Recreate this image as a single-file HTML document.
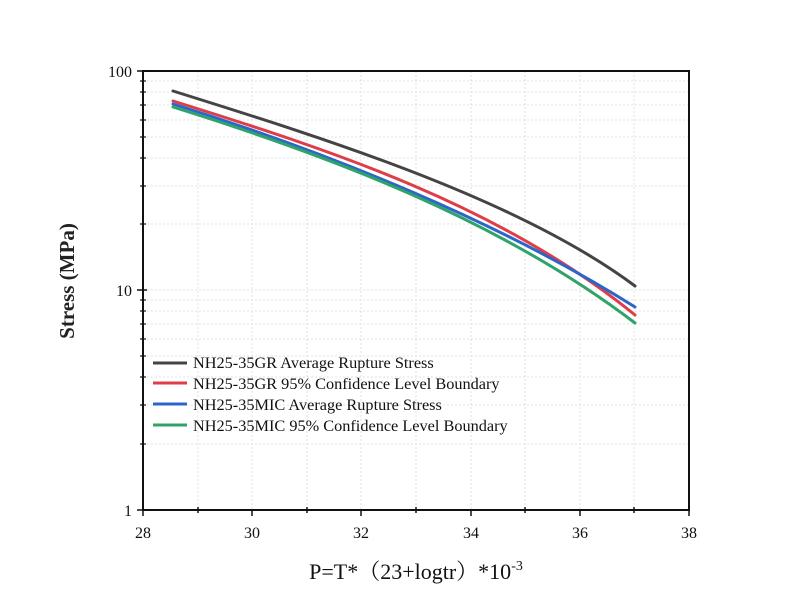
<!DOCTYPE html>
<html><head><style>body{margin:0;background:#fff}svg{display:block}</style></head><body>
<svg width="800" height="612" xmlns="http://www.w3.org/2000/svg" font-family="Liberation Serif, serif">
<rect width="800" height="612" fill="#fff"/>
<g stroke="#e2e2e2" stroke-width="1" stroke-dasharray="2,2">
<line x1="198" y1="71" x2="198" y2="510"/><line x1="252" y1="71" x2="252" y2="510"/><line x1="307" y1="71" x2="307" y2="510"/><line x1="361" y1="71" x2="361" y2="510"/><line x1="416" y1="71" x2="416" y2="510"/><line x1="471" y1="71" x2="471" y2="510"/><line x1="525" y1="71" x2="525" y2="510"/><line x1="580" y1="71" x2="580" y2="510"/><line x1="634" y1="71" x2="634" y2="510"/>
<line x1="143" y1="290" x2="689" y2="290"/>
<line x1="143" y1="81" x2="689" y2="81"/><line x1="143" y1="92" x2="689" y2="92"/><line x1="143" y1="105" x2="689" y2="105"/><line x1="143" y1="120" x2="689" y2="120"/><line x1="143" y1="137" x2="689" y2="137"/><line x1="143" y1="158" x2="689" y2="158"/><line x1="143" y1="186" x2="689" y2="186"/><line x1="143" y1="224" x2="689" y2="224"/>
<line x1="143" y1="300" x2="689" y2="300"/><line x1="143" y1="311" x2="689" y2="311"/><line x1="143" y1="324" x2="689" y2="324"/><line x1="143" y1="339" x2="689" y2="339"/><line x1="143" y1="356" x2="689" y2="356"/><line x1="143" y1="377" x2="689" y2="377"/><line x1="143" y1="405" x2="689" y2="405"/><line x1="143" y1="444" x2="689" y2="444"/>
</g>
<g fill="none" stroke-width="3" stroke-linecap="round">
<path d="M173,91 C330,140 520,200 635,286" stroke="#444"/>
<path d="M173,101 C330,150 500,205 635,315" stroke="#dd3e48"/>
<path d="M173,104 C330,153 500,222 635,307" stroke="#2b66c8"/>
<path d="M173,107 C330,156 500,220 635,323" stroke="#2ea36a"/>
</g>
<g stroke="#111" stroke-width="2" fill="none">
<path d="M143,71 H689 V510 H143 Z"/>
</g>
<g stroke="#111" stroke-width="1.5">
<line x1="137" y1="71" x2="147" y2="71"/><line x1="137" y1="290" x2="147" y2="290"/><line x1="137" y1="510" x2="147" y2="510"/>
<line x1="143" y1="510" x2="143" y2="516"/><line x1="252" y1="510" x2="252" y2="516"/><line x1="361" y1="510" x2="361" y2="516"/><line x1="471" y1="510" x2="471" y2="516"/><line x1="580" y1="510" x2="580" y2="516"/><line x1="689" y1="510" x2="689" y2="516"/>
<line x1="198" y1="507" x2="198" y2="513"/><line x1="307" y1="507" x2="307" y2="513"/><line x1="416" y1="507" x2="416" y2="513"/><line x1="525" y1="507" x2="525" y2="513"/><line x1="634" y1="507" x2="634" y2="513"/>
<g stroke-width="1.2">
<line x1="140" y1="81" x2="146" y2="81"/><line x1="140" y1="92" x2="146" y2="92"/><line x1="140" y1="105" x2="146" y2="105"/><line x1="140" y1="120" x2="146" y2="120"/><line x1="140" y1="137" x2="146" y2="137"/><line x1="140" y1="158" x2="146" y2="158"/><line x1="140" y1="186" x2="146" y2="186"/><line x1="140" y1="224" x2="146" y2="224"/>
<line x1="140" y1="300" x2="146" y2="300"/><line x1="140" y1="311" x2="146" y2="311"/><line x1="140" y1="324" x2="146" y2="324"/><line x1="140" y1="339" x2="146" y2="339"/><line x1="140" y1="356" x2="146" y2="356"/><line x1="140" y1="377" x2="146" y2="377"/><line x1="140" y1="405" x2="146" y2="405"/><line x1="140" y1="444" x2="146" y2="444"/>
</g>
</g>
<g font-size="16" fill="#111">
<text x="132" y="77" text-anchor="end">100</text>
<text x="132" y="296" text-anchor="end">10</text>
<text x="132" y="516" text-anchor="end">1</text>
<g text-anchor="middle">
<text x="143" y="538">28</text><text x="252" y="538">30</text><text x="361" y="538">32</text><text x="471" y="538">34</text><text x="580" y="538">36</text><text x="689" y="538">38</text>
</g>
</g>
<text x="74" y="281" font-size="21" font-weight="bold" fill="#222" text-anchor="middle" transform="rotate(-90 74 281)">Stress (MPa)</text>
<text x="416" y="579" font-size="22" fill="#111" text-anchor="middle" font-family="Liberation Serif, 'Noto Serif CJK SC', serif">P=T*（23+logtr）*10<tspan font-size="14" dy="-9">-3</tspan></text>
<g stroke-width="3">
<line x1="153" y1="363" x2="187" y2="363" stroke="#444"/>
<line x1="153" y1="383" x2="187" y2="383" stroke="#dd3e48"/>
<line x1="153" y1="404" x2="187" y2="404" stroke="#2b66c8"/>
<line x1="153" y1="425" x2="187" y2="425" stroke="#2ea36a"/>
</g>
<g font-size="16.3" fill="#111">
<text x="193" y="368">NH25-35GR Average Rupture Stress</text>
<text x="193" y="389">NH25-35GR 95% Confidence Level Boundary</text>
<text x="193" y="410">NH25-35MIC Average Rupture Stress</text>
<text x="193" y="431">NH25-35MIC 95% Confidence Level Boundary</text>
</g>
</svg>
</body></html>
